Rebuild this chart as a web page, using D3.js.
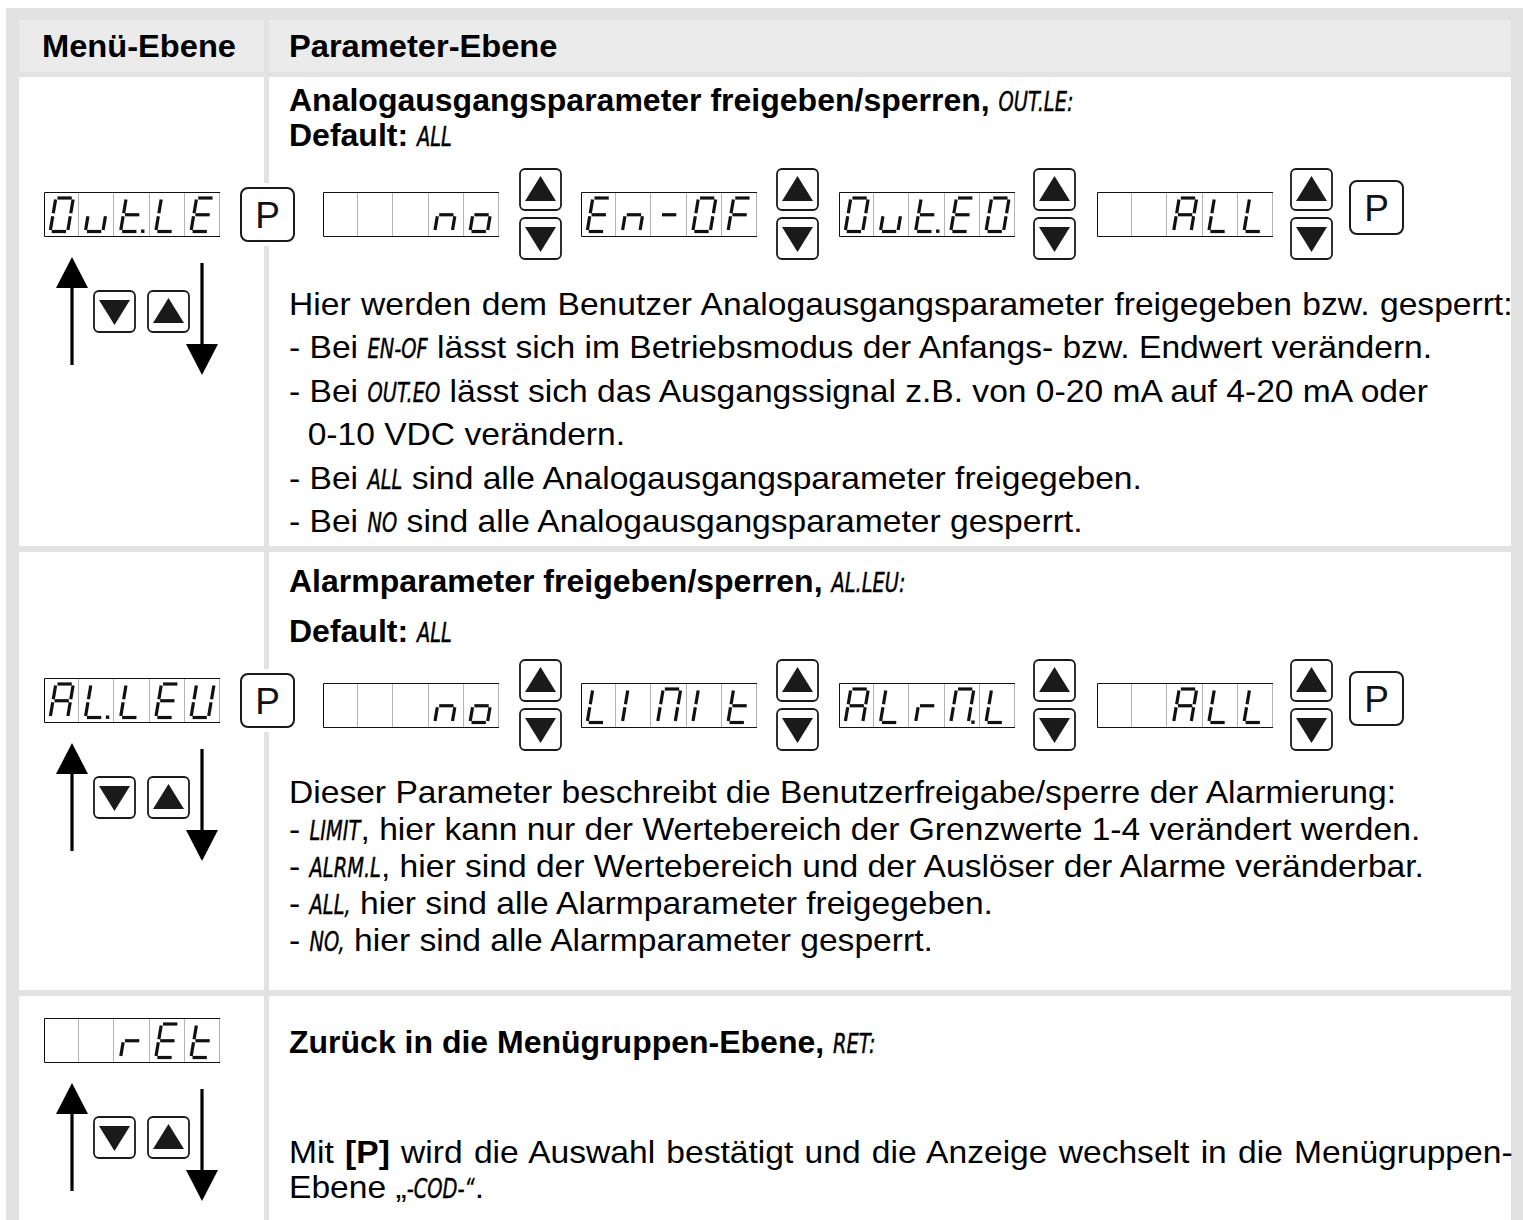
<!DOCTYPE html>
<html><head><meta charset="utf-8">
<script src="https://cdn.jsdelivr.net/npm/d3@7"></script>
<style>body{margin:0;background:#fff}svg{display:block}</style>
</head><body>
<script>
// ---------------- data ----------------
const headers = ["Menü-Ebene", "Parameter-Ebene"];
const menuDisplays = ["Out.LE", "AL.LEU", "  rEt"];
const paramDisplays1 = ["   no", "En-OF", "Out.EO", "  ALL"];
const paramDisplays2 = ["   no", "LIMIt", "ALrM.L", "  ALL"];
const titles = [
  "**Analogausgangsparameter freigeben/sperren, **{OUT.LE:}",
  "**Alarmparameter freigeben/sperren, **{AL.LEU:}",
  "**Zurück in die Menügruppen-Ebene, **{RET:}"
];
const defaults = ["**Default: **{ALL}", "**Default: **{ALL}"];
const body1 = [
  "Hier werden dem Benutzer Analogausgangsparameter freigegeben bzw. gesperrt:",
  "- Bei {EN-OF} lässt sich im Betriebsmodus der Anfangs- bzw. Endwert verändern.",
  "- Bei {OUT.EO} lässt sich das Ausgangssignal z.B. von 0-20 mA auf 4-20 mA oder",
  "  0-10 VDC verändern.",
  "- Bei {ALL} sind alle Analogausgangsparameter freigegeben.",
  "- Bei {NO} sind alle Analogausgangsparameter gesperrt."
];
const body2 = [
  "Dieser Parameter beschreibt die Benutzerfreigabe/sperre der Alarmierung:",
  "- {LIMIT}, hier kann nur der Wertebereich der Grenzwerte 1-4 verändert werden.",
  "- {ALRM.L}, hier sind der Wertebereich und der Auslöser der Alarme veränderbar.",
  "- {ALL,} hier sind alle Alarmparameter freigegeben.",
  "- {NO,} hier sind alle Alarmparameter gesperrt."
];
const body3 = [
  "Mit **[P]** wird die Auswahl bestätigt und die Anzeige wechselt in die Menügruppen-",
  "Ebene „{-COD-“}."
];
const segMap = {"O":"abcdef","u":"cde","t":"defg","L":"def","E":"adefg","n":"ceg","o":"cdeg",
  "-":"g","F":"aefg","A":"abcefg","U":"bcdef","I":"ef","M":"abcef","r":"eg"," ":""};

// ---------------- setup ----------------
const W = 1523, H = 1220;
const FONT = "'Liberation Sans', Arial, Helvetica, sans-serif";
const SEGFONT = "'DejaVu Sans', sans-serif";
const FS = 32;
const svg = d3.select("body").append("svg").attr("width", W).attr("height", H);

// table
svg.append("rect").attr("x", 6).attr("y", 8).attr("width", W - 6).attr("height", H - 8).attr("fill", "#e2e2e2");
const colL = [19, 269], colR = [264, 1511];
const rowT = [20, 77, 552, 996], rowB = [72, 546, 990, 1220];
const cells = [];
rowT.forEach((t, r) => colL.forEach((l, c) => cells.push({x: l, y: t, w: colR[c] - l, h: rowB[r] - t, head: r === 0})));
svg.append("g").selectAll("rect").data(cells).join("rect")
  .attr("x", d => d.x).attr("y", d => d.y).attr("width", d => d.w).attr("height", d => d.h)
  .attr("fill", d => d.head ? "#ebebeb" : "#fff");

// ---------------- text helpers ----------------
function parseRuns(s) {
  const runs = [], re = /\*\*(.+?)\*\*|\{(.+?)\}|([^*{]+)/g; let m;
  while ((m = re.exec(s))) {
    if (m[1] !== undefined) runs.push({t: m[1], k: "b"});
    else if (m[2] !== undefined) runs.push({t: m[2], k: "s"});
    else runs.push({t: m[3], k: "n"});
  }
  return runs;
}
function textLine(parent, x, y, str, opt = {}) {
  const g = parent.append("g");
  const items = [];
  const bsx = opt.sx || 1;
  parseRuns(str).forEach(r => {
    const t = g.append("text").style("white-space", "pre").attr("fill", "#000").text(r.t);
    let sx = bsx;
    if (r.k === "s") {
      t.attr("font-family", SEGFONT).attr("font-style", "italic").attr("font-size", 27)
        .attr("stroke", "#000").attr("stroke-width", 0.45);
      sx = 0.72;
    } else {
      t.attr("font-family", FONT).attr("font-size", opt.size || FS)
        .attr("font-weight", (r.k === "b" || opt.bold) ? "bold" : "normal");
    }
    const w = t.node().getComputedTextLength() * sx;
    items.push({t, sx, w, spaces: r.k === "s" ? 0 : (r.t.match(/ /g) || []).length});
  });
  let ws = 0;
  if (opt.justify) {
    const tot = d3.sum(items, d => d.w), ns = d3.sum(items, d => d.spaces);
    ws = ns ? Math.max(0, (opt.justify - x - tot) / ns) : 0;
  }
  let cx = x;
  items.forEach(d => {
    if (ws && d.spaces) d.t.attr("word-spacing", ws / d.sx);
    d.t.attr("transform", `translate(${cx},${y}) scale(${d.sx},1)`);
    cx += d.w + d.spaces * ws;
  });
}

// ---------------- graphic helpers ----------------
function parseDisplay(s) {
  const out = [];
  for (const ch of s) {
    if (ch === "." && out.length) out[out.length - 1].dp = true;
    else out.push({ch, dp: false});
  }
  return out;
}
const DW = 176, DH = 45;
function drawDisplay(parent, x, y, str) {
  const cellsD = parseDisplay(str);
  const band = d3.scaleBand().domain(d3.range(cellsD.length)).range([x, x + DW]);
  const g = parent.append("g");
  g.append("title").text(str.trim());
  g.append("rect").attr("x", x).attr("y", y).attr("width", DW).attr("height", DH).attr("fill", "#fff");
  g.selectAll("line.sep").data(d3.range(1, cellsD.length + 1)).join("line")
    .attr("x1", i => Math.round(x + i * band.step()) - 0.5).attr("x2", i => Math.round(x + i * band.step()) - 0.5)
    .attr("y1", y).attr("y2", y + DH).attr("stroke", "#b4b4b4").attr("stroke-width", 1);
  g.append("path").attr("d", `M${x + DW},${y + 0.5}H${x + 0.5}V${y + DH - 0.5}H${x + DW}`)
    .attr("fill", "none").attr("stroke", "#111").attr("stroke-width", 1);
  const k = 0.17, x0 = 9, x1 = 26.5, top = 6, bot = 39.5, mid = (top + bot) / 2, gp = 1.6;
  const def = {a: [[x0 + gp, top], [x1 - gp, top]], b: [[x1, top + gp], [x1, mid - gp]], c: [[x1, mid + gp], [x1, bot - gp]],
    d: [[x0 + gp, bot], [x1 - gp, bot]], e: [[x0, mid + gp], [x0, bot - gp]], f: [[x0, top + gp], [x0, mid - gp]],
    g: [[x0 + gp, mid], [x1 - gp, mid]]};
  const segs = cellsD.flatMap((c, i) => (segMap[c.ch] || "").split("").map(s => ({i, s})));
  const line = d3.line();
  g.selectAll("path.seg").data(segs).join("path").attr("class", "seg")
    .attr("d", d => line(def[d.s].map(p => [band(d.i) + p[0] + (mid - p[1]) * k, y + p[1]])))
    .attr("stroke", "#111").attr("stroke-width", 3.2).attr("fill", "none");
  g.selectAll("rect.dp").data(cellsD.map((c, i) => ({...c, i})).filter(c => c.dp)).join("rect").attr("class", "dp")
    .attr("x", d => band(d.i) + x1 + 3 + (mid - bot) * k).attr("y", y + bot - 2).attr("width", 3.4).attr("height", 3.4)
    .attr("fill", "#111");
}
function arrowBtn(parent, x, y, dir) {
  const g = parent.append("g");
  g.append("rect").attr("x", x + 1).attr("y", y + 1).attr("width", 41).attr("height", 41).attr("rx", 5)
    .attr("fill", "#fff").attr("stroke", "#1a1a1a").attr("stroke-width", 1.8);
  const cx = x + 21.5;
  const pts = dir === "up" ? [[cx, y + 8], [cx + 15.5, y + 33], [cx - 15.5, y + 33]]
                           : [[cx - 15.5, y + 10], [cx + 15.5, y + 10], [cx, y + 35]];
  g.append("path").attr("d", "M" + pts.join("L") + "Z").attr("fill", "#1a1a1a");
}
function pBtn(parent, x, y, backing) {
  const g = parent.append("g");
  if (backing) g.append("rect").attr("x", x - 3).attr("y", y - 4).attr("width", 62).attr("height", 63).attr("fill", "#fff");
  g.append("rect").attr("x", x + 1).attr("y", y + 1).attr("width", 53).attr("height", 53).attr("rx", 7)
    .attr("fill", "#fff").attr("stroke", "#1a1a1a").attr("stroke-width", 2);
  g.append("text").attr("x", x + 27.5).attr("y", y + 41).attr("text-anchor", "middle")
    .attr("font-family", FONT).attr("font-size", 37).attr("fill", "#111").text("P");
}
function bigArrow(parent, x, y1, y2, up) {
  const g = parent.append("g");
  const hh = 31, hw = 16;
  if (up) {
    g.append("line").attr("x1", x).attr("x2", x).attr("y1", y1 + hh - 2).attr("y2", y2).attr("stroke", "#000").attr("stroke-width", 3.2);
    g.append("path").attr("d", `M${x},${y1}L${x + hw},${y1 + hh}L${x - hw},${y1 + hh}Z`).attr("fill", "#000");
  } else {
    g.append("line").attr("x1", x).attr("x2", x).attr("y1", y1).attr("y2", y2 - hh + 2).attr("stroke", "#000").attr("stroke-width", 3.2);
    g.append("path").attr("d", `M${x - hw},${y2 - hh}L${x + hw},${y2 - hh}L${x},${y2}Z`).attr("fill", "#000");
  }
}
function menuBlock(parent, y, str, withP) {
  drawDisplay(parent, 44, y, str);
  if (withP) pBtn(parent, 240, y - 5, true);
  bigArrow(parent, 72, y + 65, y + 173, true);
  arrowBtn(parent, 93, y + 98, "down");
  arrowBtn(parent, 147, y + 98, "up");
  bigArrow(parent, 202, y + 71, y + 183, false);
}
const dispX = d3.scaleLinear().domain([0, 3]).range([323, 1097]);
const btnX = d3.scaleLinear().domain([0, 3]).range([519, 1290]);
function paramRow(parent, y, list) {
  list.forEach((s, i) => {
    drawDisplay(parent, dispX(i), y, s);
    arrowBtn(parent, btnX(i), y - 24, "up");
    arrowBtn(parent, btnX(i), y + 25, "down");
  });
  pBtn(parent, 1349, y - 12, false);
}

// ---------------- draw ----------------
const root = svg.append("g");
const BODY = {sx: 1.05};
textLine(root, 42, 57, headers[0], {bold: true, sx: 1.02});
textLine(root, 289, 57, headers[1], {bold: true, sx: 1.02});

// row 1
textLine(root, 289, 111, titles[0]);
textLine(root, 289, 146, defaults[0]);
menuBlock(root, 192, menuDisplays[0], true);
paramRow(root, 192, paramDisplays1);
body1.forEach((s, i) => textLine(root, 289, 315 + i * 43.4, s, i === 0 ? {...BODY, justify: 1513} : BODY));

// row 2
textLine(root, 289, 592, titles[1]);
textLine(root, 289, 642, defaults[1]);
menuBlock(root, 678, menuDisplays[1], true);
paramRow(root, 683, paramDisplays2);
body2.forEach((s, i) => textLine(root, 289, 803 + i * 37, s, BODY));

// row 3
textLine(root, 289, 1053, titles[2]);
menuBlock(root, 1018, menuDisplays[2], false);
body3.forEach((s, i) => textLine(root, 289, 1163 + i * 35, s, i === 0 ? {...BODY, justify: 1513} : BODY));
</script>
</body></html>
